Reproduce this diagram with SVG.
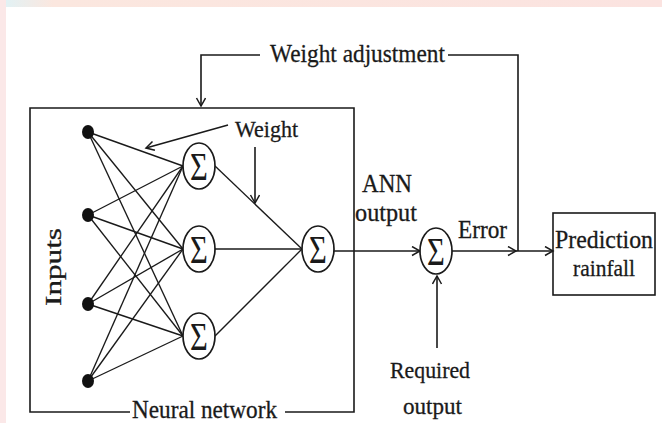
<svg xmlns="http://www.w3.org/2000/svg" width="662" height="423" viewBox="0 0 662 423">
<defs>
<linearGradient id="topg" x1="0" y1="0" x2="1" y2="0">
<stop offset="0" stop-color="#dff3f7"/>
<stop offset="0.08" stop-color="#fbe7df"/>
<stop offset="1" stop-color="#fbe3e0"/>
</linearGradient>
<marker id="arr" markerUnits="userSpaceOnUse" markerWidth="12" markerHeight="12" refX="9" refY="5" orient="auto">
<path d="M1,0.5 L9,5 L1,9.5" fill="none" stroke="#1a1a1a" stroke-width="1.5"/>
</marker>
</defs>
<style>
.ln{stroke:#1a1a1a;stroke-width:1.6;fill:none}
.lt{stroke:#1a1a1a;stroke-width:1.35;fill:none}
.nd{fill:#fff;stroke:#1a1a1a;stroke-width:1.7}
.dot{fill:#111}
.t{font-family:"Liberation Serif","Times New Roman",serif;fill:#1a1a1a;stroke:#1a1a1a;stroke-width:0.3}
.sg{font-family:"Liberation Serif","Times New Roman",serif;font-size:34px;fill:#1a1a1a;text-anchor:middle}
</style>
<rect width="662" height="423" fill="#fff"/>
<rect width="662" height="7" fill="url(#topg)"/>
<rect width="6" height="423" fill="#fbe8e8"/>

<g id="connectors">
<line class="lt" x1="88" y1="132" x2="183" y2="166"/>
<line class="lt" x1="88" y1="132" x2="183" y2="249"/>
<line class="lt" x1="88" y1="132" x2="183" y2="336"/>
<line class="lt" x1="88" y1="215" x2="183" y2="166"/>
<line class="lt" x1="88" y1="215" x2="183" y2="249"/>
<line class="lt" x1="88" y1="215" x2="183" y2="336"/>
<line class="lt" x1="88" y1="304" x2="183" y2="166"/>
<line class="lt" x1="88" y1="304" x2="183" y2="249"/>
<line class="lt" x1="88" y1="304" x2="183" y2="336"/>
<line class="lt" x1="88" y1="381" x2="183" y2="166"/>
<line class="lt" x1="88" y1="381" x2="183" y2="249"/>
<line class="lt" x1="88" y1="381" x2="183" y2="336"/>
<line class="lt" x1="215" y1="166" x2="302" y2="249"/>
<line class="lt" x1="215" y1="249" x2="302" y2="249"/>
<line class="lt" x1="215" y1="336" x2="302" y2="249"/>
<line class="ln" x1="334" y1="251" x2="420" y2="251" marker-end="url(#arr)"/>
<line class="ln" x1="452" y1="251" x2="516" y2="251" marker-end="url(#arr)"/>
<line class="ln" x1="516" y1="251" x2="553" y2="251" marker-end="url(#arr)"/>
<polyline class="ln" points="518,251 518,55 448,55"/>
<polyline class="ln" points="260,55 201,55 201,106" marker-end="url(#arr)"/>
<line class="ln" x1="437" y1="348" x2="437" y2="276" marker-end="url(#arr)"/>
<line class="ln" x1="228" y1="125" x2="146" y2="148" marker-end="url(#arr)"/>
<line class="ln" x1="255" y1="147" x2="255" y2="203" marker-end="url(#arr)"/>
</g>

<g id="neural-network">
<path class="ln" d="M130,412 L30,412 L30,108 L354,108 L354,412 L285,412"/>
<text class="t" x="132" y="418" font-size="25" textLength="145" lengthAdjust="spacingAndGlyphs">Neural network</text>
</g>

<g id="inputs">
<text class="t" transform="translate(61,267) rotate(-90)" x="0" y="0" font-size="23" text-anchor="middle" textLength="78" lengthAdjust="spacingAndGlyphs">Inputs</text>
<ellipse class="dot" cx="88" cy="132" rx="6" ry="7"/>
<ellipse class="dot" cx="88" cy="215" rx="6" ry="7"/>
<ellipse class="dot" cx="88" cy="304" rx="6" ry="7"/>
<ellipse class="dot" cx="88" cy="381" rx="6" ry="7"/>
</g>

<g id="hidden-1">
<ellipse class="nd" cx="199" cy="166" rx="16" ry="23"/>
<text class="sg" transform="translate(199,166) scale(0.9,1.2)" y="11.3">Σ</text>
</g>
<g id="hidden-2">
<ellipse class="nd" cx="199" cy="249" rx="16" ry="23"/>
<text class="sg" transform="translate(199,249) scale(0.9,1.2)" y="11.3">Σ</text>
</g>
<g id="hidden-3">
<ellipse class="nd" cx="199" cy="336" rx="16" ry="23"/>
<text class="sg" transform="translate(199,336) scale(0.9,1.2)" y="11.3">Σ</text>
</g>
<g id="output-node">
<ellipse class="nd" cx="318" cy="249" rx="16" ry="23"/>
<text class="sg" transform="translate(318,249) scale(0.9,1.2)" y="11.3">Σ</text>
</g>
<g id="error-node">
<ellipse class="nd" cx="436" cy="251" rx="16" ry="23"/>
<text class="sg" transform="translate(436,251) scale(0.9,1.2)" y="11.3">Σ</text>
</g>

<g id="prediction">
<rect class="ln" x="553" y="213" width="102" height="82" stroke-width="1.8"/>
<text class="t" x="604" y="248" font-size="26" text-anchor="middle" textLength="98" lengthAdjust="spacingAndGlyphs">Prediction</text>
<text class="t" x="604" y="276" font-size="24" text-anchor="middle" textLength="62" lengthAdjust="spacingAndGlyphs">rainfall</text>
</g>

<g id="labels">
<text class="t" x="270" y="62" font-size="26" textLength="175" lengthAdjust="spacingAndGlyphs">Weight adjustment</text>
<text class="t" x="235" y="137" font-size="24" textLength="63" lengthAdjust="spacingAndGlyphs">Weight</text>
<text class="t" x="362" y="192" font-size="25" textLength="50" lengthAdjust="spacingAndGlyphs">ANN</text>
<text class="t" x="355" y="221" font-size="25" textLength="62" lengthAdjust="spacingAndGlyphs">output</text>
<text class="t" x="458" y="238" font-size="25" textLength="49" lengthAdjust="spacingAndGlyphs">Error</text>
<text class="t" x="390" y="378" font-size="24" textLength="80" lengthAdjust="spacingAndGlyphs">Required</text>
<text class="t" x="403" y="414" font-size="24" textLength="59" lengthAdjust="spacingAndGlyphs">output</text>
</g>
</svg>
